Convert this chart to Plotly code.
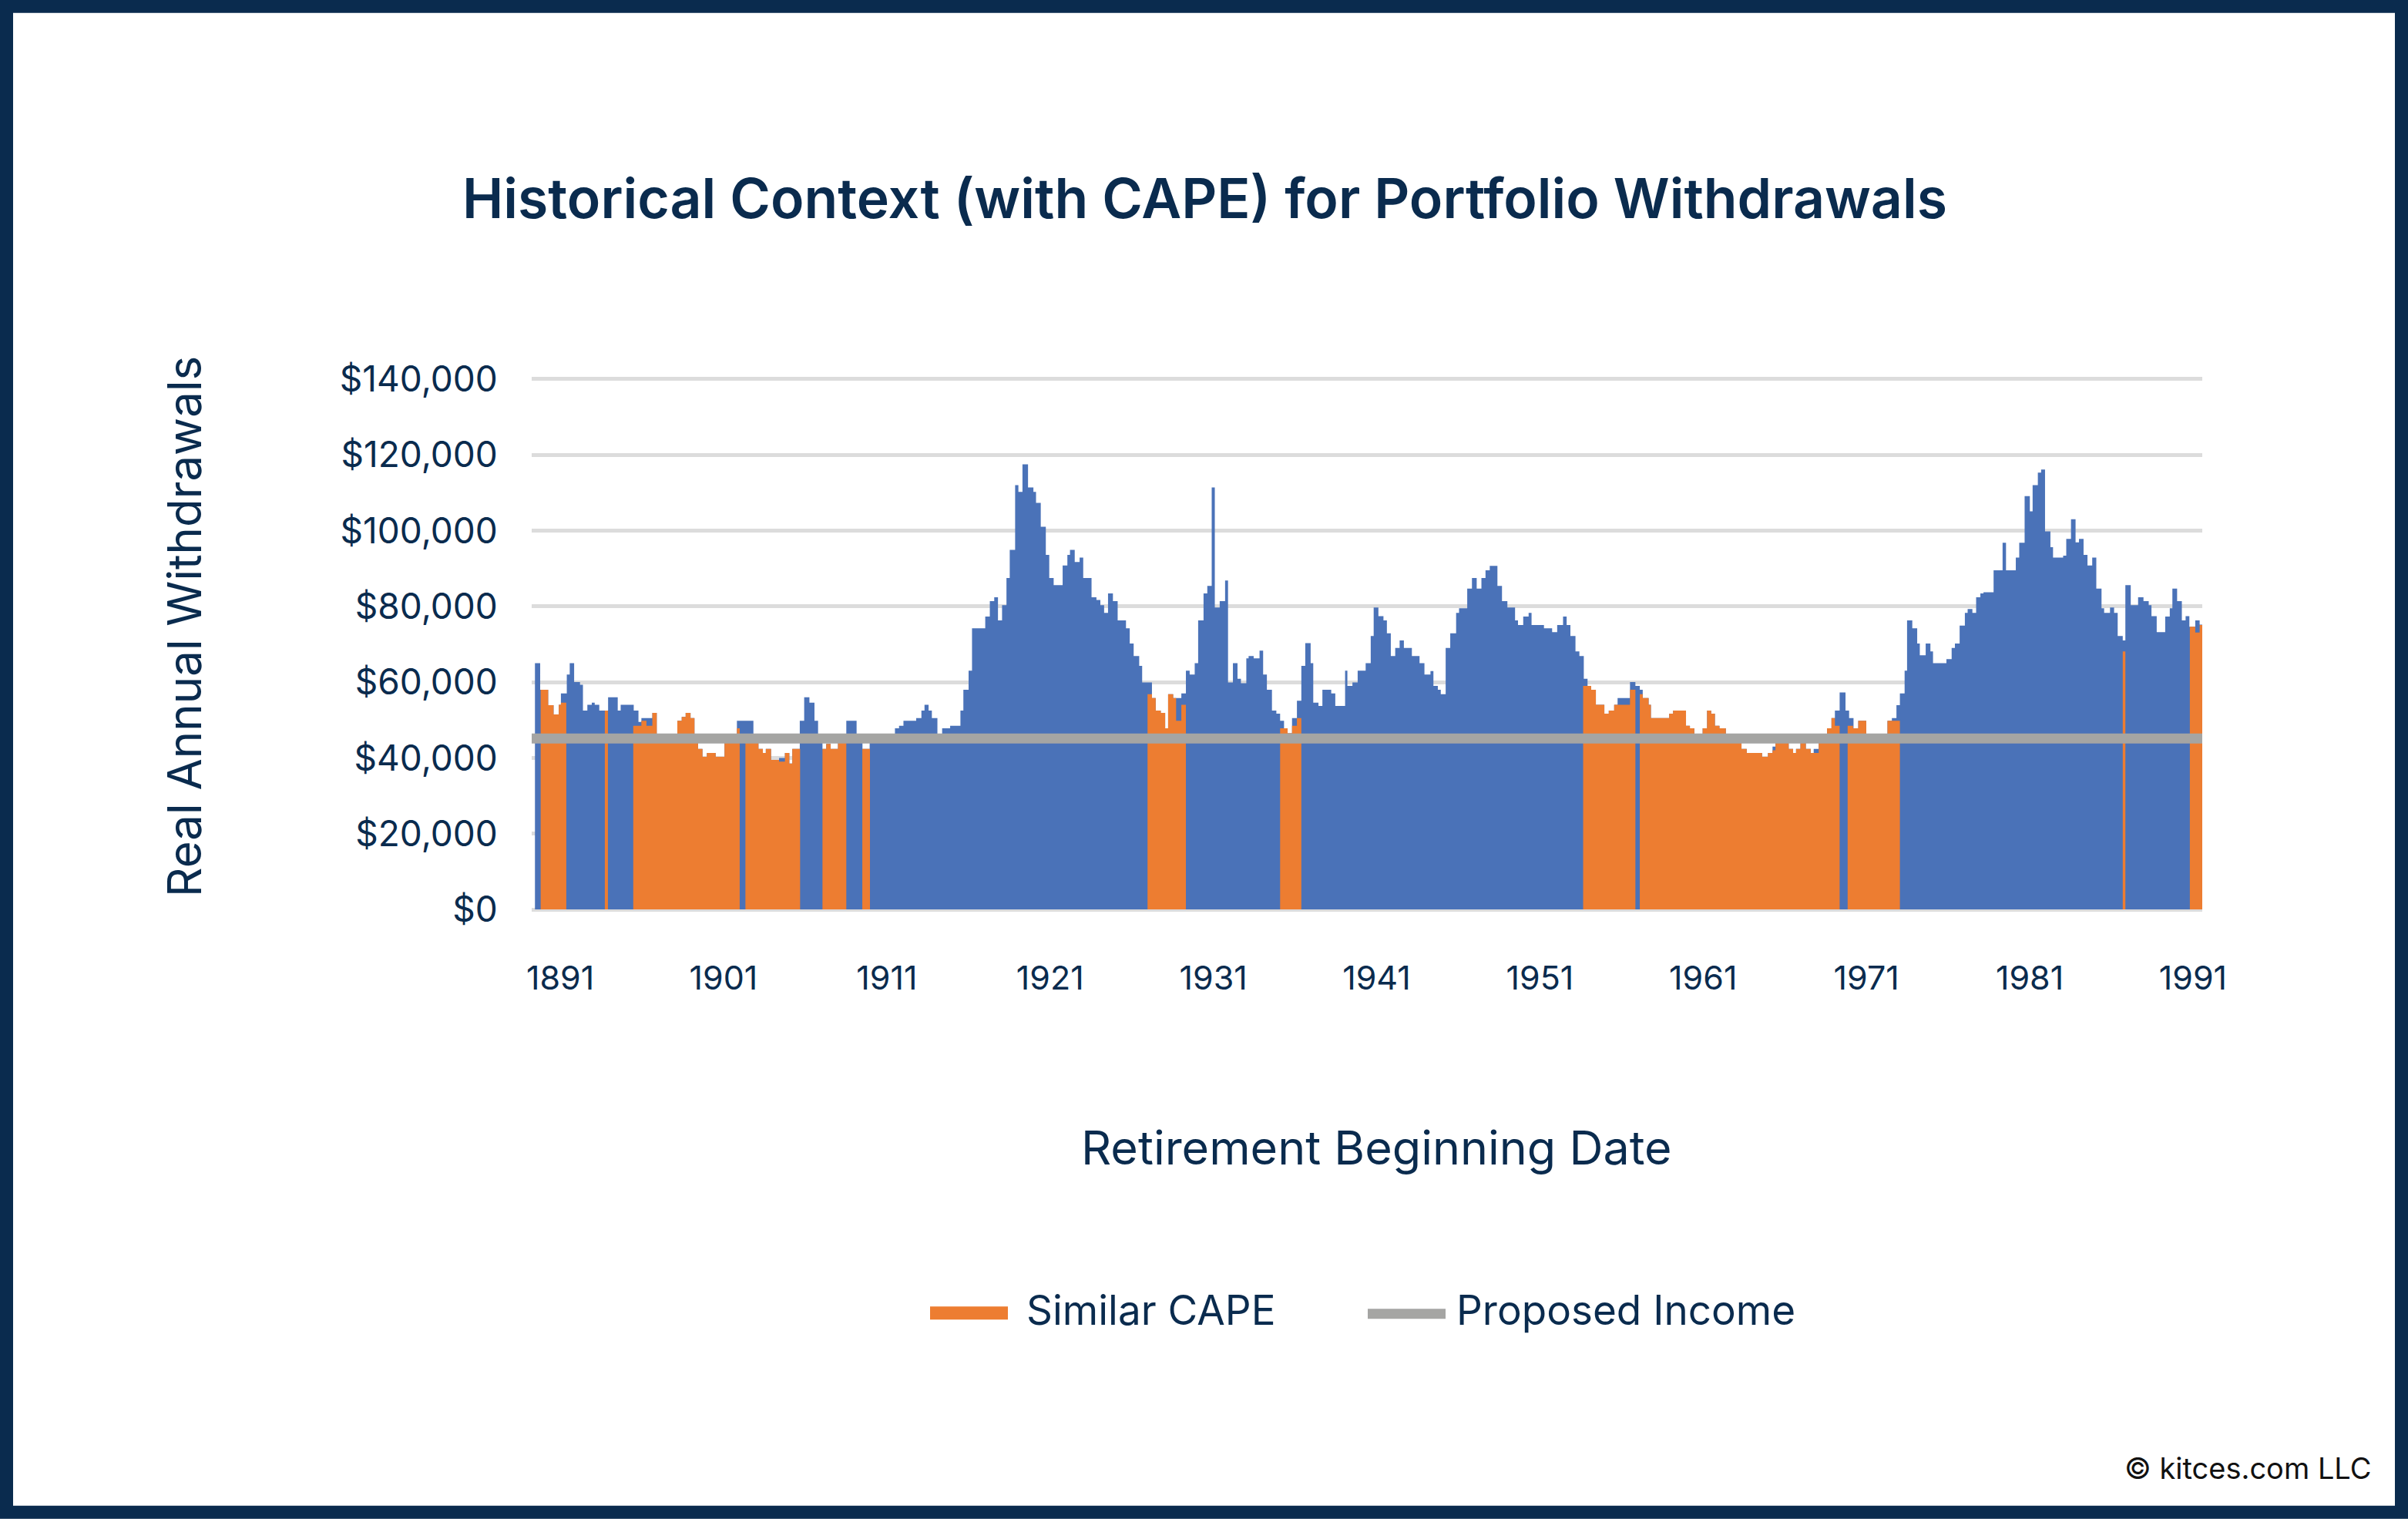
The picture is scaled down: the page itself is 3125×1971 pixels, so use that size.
import plotly.graph_objects as go

# Withdrawals in $ thousands; each step starts at the listed year and holds until the next one.
withdrawal_steps = [
(1889.45,65),(1889.77,58),(1890.26,53.9),(1890.59,51.5),(1890.91,54),(1891.04,57),(1891.40,62),(1891.58,65),(1891.85,60),(1892.21,59.3),
(1892.39,52.5),(1892.66,54),(1892.93,54.6),(1893.11,54),(1893.39,52.5),(1893.93,56),(1894.52,52.5),(1894.70,54),(1895.50,52.5),(1895.79,49.5),
(1895.97,50.5),(1896.64,51.9),(1896.91,46),(1898.17,49.8),(1898.44,50.8),(1898.68,51.9),(1898.98,50.5),(1899.22,46),(1899.44,42.4),(1899.71,40.3),
(1899.98,41.3),(1900.52,40.3),(1901.06,45.5),(1901.82,49.8),(1902.83,45.5),(1903.14,42.4),(1903.41,41.3),(1903.59,42.4),(1903.91,39.5),(1904.40,40),
(1904.76,41.3),(1905.03,38.5),(1905.21,42.4),(1905.67,49.8),(1905.94,56),(1906.26,54.6),(1906.57,49.8),(1906.79,45.5),(1907.06,42.4),(1907.29,43.7),
(1907.56,42.4),(1908.01,44),(1908.52,49.8),(1909.15,45.5),(1909.51,42.4),(1909.95,45.5),(1911.50,47.8),(1911.75,48.5),(1912.02,49.8),(1912.80,50.5),
(1913.12,52.5),(1913.31,54),(1913.56,52.5),(1913.76,50.5),(1914.10,46),(1914.39,47.8),(1914.88,48.5),(1915.51,52.5),(1915.69,58),(1916.01,63),
(1916.22,74.2),(1917.03,77.3),(1917.31,81.4),(1917.58,82.4),(1917.81,76.3),(1918.06,80.3),(1918.33,87.5),(1918.53,94.9),(1918.86,112),(1919.06,110.2),
(1919.31,117.5),(1919.65,111.4),(1919.98,110.2),(1920.14,107.3),(1920.43,101),(1920.74,93.6),(1920.95,87.5),(1921.22,85.6),(1921.77,90.8),(1922.06,93.6),
(1922.22,94.9),(1922.51,91.7),(1922.81,92.9),(1923.03,87.5),(1923.54,82.4),(1923.84,81.7),(1924.08,80.3),(1924.31,78.3),(1924.55,83.4),(1924.85,81.4),
(1925.14,76.3),(1925.65,74.2),(1925.88,70.2),(1926.12,66.9),(1926.46,64.3),(1926.64,59.9),(1927.24,55.8),(1927.47,52.5),(1927.78,51.9),(1928.05,47.8),
(1928.23,56.8),(1928.54,55.8),(1929.04,57),(1929.32,63),(1929.55,62),(1929.86,65),(1930.07,76.3),(1930.40,83.4),(1930.63,85.4),(1930.90,111.4),
(1931.09,79.7),(1931.39,81.4),(1931.72,86.8),(1931.90,59.9),(1932.20,65),(1932.48,60.9),(1932.69,59.7),(1933.02,66.3),(1933.16,66.9),(1933.47,66.3),
(1933.83,68.3),(1934.05,62),(1934.28,58),(1934.59,52.5),(1934.86,51.7),(1935.09,49.8),(1935.33,47.8),(1935.55,46.5),(1935.82,50.5),(1936.12,55.1),
(1936.39,64.3),(1936.63,70.3),(1936.96,65),(1937.12,54.6),(1937.44,53.7),(1937.68,58),(1938.22,57),(1938.47,53.7),(1939.07,63),(1939.21,59),
(1939.52,59.9),(1939.84,63),(1940.33,65),(1940.64,72.2),(1940.82,79.7),(1941.11,77.4),(1941.42,76.3),(1941.63,72.9),(1941.87,66.9),(1942.14,69),
(1942.41,71),(1942.67,69),(1943.16,66.9),(1943.63,65),(1943.93,62),(1944.30,62.9),(1944.48,59),(1944.75,58),(1944.93,56.8),(1945.23,69),
(1945.51,72.9),(1945.87,78.3),(1946.05,79.5),(1946.55,84.7),(1946.84,87.5),(1947.13,84.7),(1947.42,87.5),(1947.67,89.5),(1947.93,90.7),(1948.40,85.4),
(1948.68,81.4),(1949.01,79.7),(1949.48,76.3),(1949.66,75.1),(1949.98,77.3),(1950.31,78.3),(1950.49,75.1),(1951.25,74.2),(1951.75,73.2),(1952.06,75.1),
(1952.42,77.3),(1952.64,75.1),(1952.87,72.2),(1953.18,68.1),(1953.42,66.9),(1953.69,60.9),(1953.92,59),(1954.14,58),(1954.43,54),(1954.95,51.7),
(1955.22,52.5),(1955.55,54),(1955.76,55.8),(1956.52,60),(1956.85,59),(1957.12,58),(1957.30,55.8),(1957.66,54),(1957.80,50.5),(1958.92,51.7),
(1959.16,52.5),(1959.95,48.5),(1960.19,47.8),(1960.46,46),(1960.97,47.8),(1961.24,52.5),(1961.49,51.7),(1961.72,48.5),(1962.00,47.8),(1962.39,45.5),
(1963.35,42.4),(1963.67,41.3),(1964.61,40.3),(1964.97,41.3),(1965.25,43),(1965.43,44),(1966.24,42.4),(1966.51,41.3),(1966.69,42.4),(1966.96,44),
(1967.29,42.4),(1967.59,41.3),(1967.77,42.4),(1968.08,45),(1968.59,47.8),(1968.86,50.5),(1969.07,52.5),(1969.36,57.3),(1969.72,52.5),(1969.94,50.5),
(1970.21,47.8),(1970.50,49.8),(1970.99,46),(1972.29,49.8),(1972.56,50.5),(1972.84,53.9),(1973.05,57),(1973.34,63),(1973.49,76.3),(1973.81,74.2),
(1974.11,70.2),(1974.27,67.1),(1974.63,70.2),(1974.92,68.1),(1975.08,65),(1975.90,66.1),(1976.22,69),(1976.42,70.2),(1976.71,74.9),(1977.03,78.3),
(1977.20,79.3),(1977.49,78.3),(1977.72,82.4),(1977.98,83.4),(1978.17,83.7),(1978.79,89.5),(1979.34,96.8),(1979.55,89.5),(1980.15,92.9),(1980.36,96.8),
(1980.69,109.1),(1981.01,105.1),(1981.18,112),(1981.50,115.3),(1981.70,116.1),(1981.94,99.8),(1982.27,95.6),(1982.43,92.9),(1983.05,93.4),(1983.24,97.8),
(1983.53,103),(1983.81,96.9),(1984.02,97.8),(1984.30,93.6),(1984.54,90.8),(1984.83,92.9),(1985.08,84.7),(1985.40,79.5),(1985.56,78.3),(1985.92,79.7),
(1986.17,78.3),(1986.39,72.2),(1986.70,71),(1986.86,85.6),(1987.19,80.3),(1987.64,82.4),(1987.97,81.4),(1988.29,80.3),(1988.46,77.4),(1988.78,73.2),
(1989.30,77.3),(1989.58,79.5),(1989.74,84.7),(1990.03,81.4),(1990.32,76.3),(1990.55,77.4),(1990.78,74.6),(1991.14,76.3),(1991.41,75.2),(1991.58,75.2),
]

# The subset of dates with a similar CAPE (0 = not similar).
similar_cape_steps = [
(1889.80,58),(1890.26,53.9),(1890.59,51.5),(1890.91,54),(1891.04,54.6),(1891.37,0),
(1893.73,52.5),(1893.92,0),
(1895.47,48.5),(1895.97,49.8),(1896.28,48.5),(1896.64,51.9),(1896.91,46),(1898.17,49.8),(1898.44,50.8),(1898.68,51.9),(1898.98,50.5),(1899.22,46),
(1899.44,42.4),(1899.71,40.3),(1899.98,41.3),(1900.52,40.3),(1901.06,45.5),(1901.82,47.8),(1901.99,0),
(1902.34,45.5),(1903.14,42.4),(1903.41,41.3),(1903.59,42.4),(1903.91,39.5),(1904.40,39),(1904.76,41.3),(1905.03,38.5),(1905.21,42.4),(1905.69,0),
(1907.06,42.4),(1907.29,43.7),(1907.56,42.4),(1908.01,44),(1908.52,0),
(1909.50,42.4),(1909.97,0),
(1926.97,56.8),(1927.24,55.8),(1927.47,52.5),(1927.78,51.9),(1928.05,47.8),(1928.23,56.8),(1928.54,55.8),(1928.72,49.8),(1929.04,54),(1929.32,0),
(1935.09,47.8),(1935.55,46.5),(1935.82,48.5),(1936.12,50.5),(1936.39,0),
(1953.65,59),(1954.14,58),(1954.43,54),(1954.95,51.7),(1955.22,52.5),(1955.55,54),(1956.52,58),(1956.85,0),
(1957.12,56.8),(1957.30,55.8),(1957.66,54),(1957.80,50.5),(1958.92,51.7),(1959.16,52.5),(1959.95,48.5),(1960.19,47.8),(1960.46,46),(1960.97,47.8),
(1961.24,52.5),(1961.49,51.7),(1961.72,48.5),(1962.00,47.8),(1962.39,45.5),(1963.35,42.4),(1963.67,41.3),(1964.61,40.3),(1964.97,41.3),(1965.25,42),
(1965.43,44),(1966.24,42.4),(1966.51,41.3),(1966.69,42.4),(1966.96,44),(1967.29,42.4),(1967.59,41.3),(1968.08,45),(1968.59,47.8),(1968.86,50.5),
(1969.07,48.5),(1969.36,0),
(1969.85,48.5),(1970.18,47.8),(1970.50,49.8),(1970.99,46),(1972.29,49.8),(1973.05,0),
(1986.70,68.1),(1986.86,0),
(1990.81,74.6),(1991.14,73.1),(1991.41,75.1),(1991.58,75.1),
]

proposed_income = 45.1
income_span = [1889.25, 1991.57]

tick_years = [1891, 1901, 1911, 1921, 1931, 1941, 1951, 1961, 1971, 1981, 1991]
y_ticks = [0, 20, 40, 60, 80, 100, 120, 140]
y_tick_labels = ["$0", "$20,000", "$40,000", "$60,000", "$80,000", "$100,000", "$120,000", "$140,000"]

NAVY = "#0A2B4E"
BLUE = "#4A72B8"
ORANGE = "#ED7D31"
GRAY = "#A5A5A3"
FONT = "Inter"

# The y range is padded a little past 0 and 140 so those two gridlines are still drawn.
Y_RANGE = [-1, 142]
PX_PER_K = 688 / 140
L, R = 690, 2858
B = 1180 + Y_RANGE[0] * -PX_PER_K
T = 1180 - Y_RANGE[1] * PX_PER_K
fx = lambda p: (p - L) / (R - L)
fy = lambda p: (B - p) / (B - T)

fig = go.Figure()
fig.add_trace(go.Scatter(x=[s[0] for s in withdrawal_steps], y=[s[1] for s in withdrawal_steps],
                         mode="lines", line=dict(shape="hv", width=0, color=BLUE), fill="tozeroy",
                         fillcolor=BLUE, name="Real Annual Withdrawals", showlegend=False))
fig.add_trace(go.Scatter(x=[s[0] for s in similar_cape_steps], y=[s[1] for s in similar_cape_steps],
                         mode="lines", line=dict(shape="hv", width=0, color=ORANGE), fill="tozeroy",
                         fillcolor=ORANGE, name="Similar CAPE", showlegend=False))
fig.add_trace(go.Scatter(x=income_span, y=[proposed_income, proposed_income], mode="lines",
                         line=dict(width=13, color=GRAY), name="Proposed Income", showlegend=False))

def text(t, x, y, size, color=NAVY, **kw):
    kw.setdefault("xanchor", "center")
    return dict(text=t, x=fx(x), y=fy(y), xref="paper", yref="paper", showarrow=False, yanchor="middle",
                font=dict(family=FONT, size=size, color=color, weight=kw.pop("weight", 400)), **kw)

annotations = [
    text("Historical Context (with CAPE) for Portfolio Withdrawals", 1563, 257, 71.5, weight=600),
    text("Retirement Beginning Date", 1786, 1489, 61),
    text("Real Annual Withdrawals", 239, 813, 60, textangle=-90),
    text("Similar CAPE", 1330, 1700, 53, xanchor="left"),
    text("Proposed Income", 1888, 1700, 53, xanchor="left"),
    text("© kitces.com LLC", 3080, 1905, 38, color="#111111", xanchor="right"),
]

shapes = [
    dict(type="rect", xref="paper", yref="paper", x0=fx(8.5), x1=fx(3116.5), y0=fy(8.5), y1=fy(1962),
         line=dict(color=NAVY, width=17), fillcolor="rgba(0,0,0,0)", layer="above"),
    dict(type="rect", xref="paper", yref="paper", x0=fx(1207), x1=fx(1308), y0=fy(1695), y1=fy(1712),
         line=dict(width=0), fillcolor=ORANGE),
    dict(type="rect", xref="paper", yref="paper", x0=fx(1775), x1=fx(1876), y0=fy(1698), y1=fy(1711),
         line=dict(width=0), fillcolor=GRAY),
]

fig.update_layout(
    width=3125, height=1971, autosize=False,
    margin=dict(l=L, r=3125 - R, t=T, b=1971 - B, pad=0),
    paper_bgcolor="white", plot_bgcolor="white",
    font=dict(family=FONT, color=NAVY),
    annotations=annotations, shapes=shapes, showlegend=False,
    xaxis=dict(range=[income_span[0], income_span[1]], tickmode="array", tickvals=tick_years,
               ticktext=[str(y) for y in tick_years], ticks="outside", ticklen=46,
               tickcolor="rgba(0,0,0,0)", tickfont=dict(size=43, family=FONT, color=NAVY),
               showgrid=False, zeroline=False, showline=False, tickangle=0),
    yaxis=dict(range=Y_RANGE, tickmode="array", tickvals=y_ticks, ticktext=y_tick_labels,
               ticks="outside", ticklen=34, tickcolor="rgba(0,0,0,0)",
               tickfont=dict(size=46, family=FONT, color=NAVY),
               showgrid=True, gridcolor="#DCDCDC", gridwidth=5, zeroline=False, showline=False),
)

fig.write_html("out.html", config=dict(displayModeBar=False),
               post_script="document.body.style.margin='0';document.documentElement.style.overflow='hidden';")
